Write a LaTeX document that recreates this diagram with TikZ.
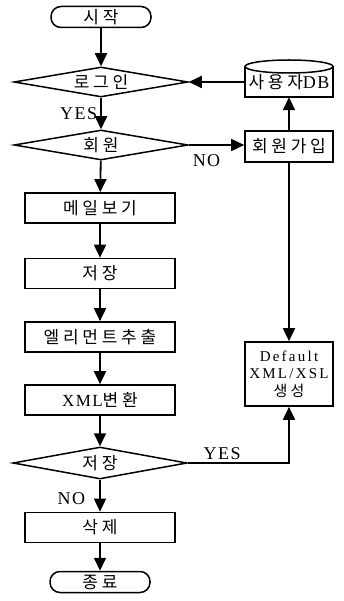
\documentclass[tikz,border=0pt]{standalone}
\usepackage{fontspec}
\setmainfont{Liberation Serif}
\newfontfamily\kr{Noto Sans CJK KR}[LetterSpace=22]
\newfontfamily\lat{Liberation Serif}[LetterSpace=8]
\newfontfamily\latw{Liberation Serif}[LetterSpace=15]
\usetikzlibrary{shapes.geometric,arrows.meta}
\begin{document}
\begin{tikzpicture}[x=1pt,y=-1pt,
  base/.style={font=\fontsize{17}{19}\selectfont, inner sep=0pt},
  proc/.style={base, draw, line width=1.7pt, rectangle, minimum width=150pt, minimum height=30pt},
  rproc/.style={base, draw, line width=1.7pt, rectangle, minimum width=88pt, minimum height=31pt},
  dec/.style={base, draw, line width=1.5pt, diamond, aspect=5.7, minimum width=174pt, minimum height=30pt},
  term/.style={base, draw, line width=1.5pt, rectangle, rounded corners=10pt, minimum width=100pt, minimum height=21pt},
  arr/.style={line width=1.8pt, -{Triangle[length=13pt,width=12pt]}},
  lab/.style={font=\fontsize{18}{20}\selectfont\lat, inner sep=0pt}
]
\useasboundingbox (0,0) rectangle (344,601);

\node[term] (start) at (101,17) {\kr 시작};
\node[dec] (login) at (101,82) {\kr 로그인};
\node[base, minimum width=88pt, minimum height=30pt] (db) at (289,82) {{\kr 사용자}{\fontsize{18}{20}\selectfont\lat DB}};
\draw[line width=1.5pt] (245,66.5) -- (245,97) -- (333,97) -- (333,66.5);
\draw[line width=1.5pt] (289,66.5) ellipse [x radius=44pt, y radius=6.5pt];
\node[dec] (member) at (101,145) {\kr 회원};
\node[rproc] (join) at (289,146.5) {\kr 회원가입};
\node[proc] (mail) at (100,208) {\kr 메일보기};
\node[proc] (save1) at (100,273.5) {\kr 저장};
\node[proc] (elem) at (100,337) {\kr 엘리먼트추출};
\node[proc] (xml) at (100,400) {{\fontsize{17}{19}\selectfont\lat XML}{\kr 변환}};
\node[rproc, minimum height=64pt, align=center, font=\fontsize{15}{17.5}\selectfont] (def) at (289,374) {{\latw Default}\\{\latw XML/XSL}\\{\kr 생성}};
\node[dec, minimum height=32pt] (save2) at (100,463) {\kr 저장};
\node[proc] (del) at (100,527.5) {\kr 삭제};
\node[term] (end) at (100,582) {\kr 종료};

\draw[arr] (start) -- (login);
\draw[arr] (db.west) -- (login.east);
\draw[arr] (login) -- node[lab, left=3pt] {YES} (member);
\draw[arr] (member.east) -- node[lab, below=9pt, pos=0.32] {NO} (member.east -| join.west);
\draw[arr] (join) -- (db.south);
\draw[arr] (join) -- (def);
\draw[arr] (member) -- (mail);
\draw[arr] (mail) -- (save1);
\draw[arr] (save1) -- (elem);
\draw[arr] (elem) -- (xml);
\draw[arr] (xml) -- (save2);
\draw[arr] (save2.east) -| node[lab, above=2pt, pos=0.17] {YES} (def.south);
\draw[arr] (save2) -- node[lab, left=14pt, pos=0.6] {NO} (del);
\draw[arr] (del) -- (end);
\end{tikzpicture}
\end{document}
